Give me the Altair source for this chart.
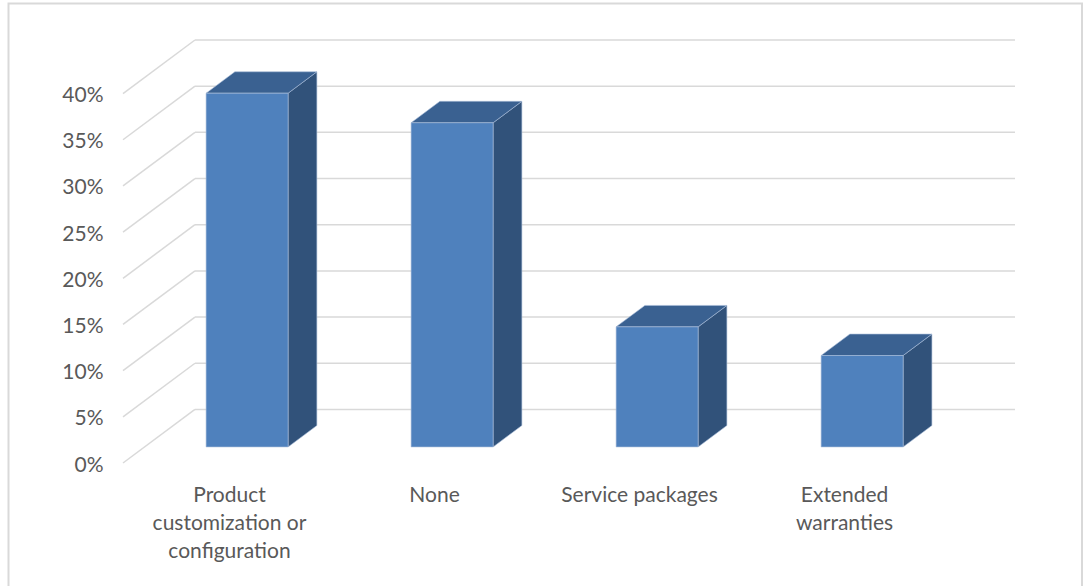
import altair as alt
import pandas as pd

# ---- data ----
categories = ["Product customization or configuration", "None",
              "Service packages", "Extended warranties"]
label_text = ["Product\ncustomization or\nconfiguration", "None",
              "Service packages", "Extended\nwarranties"]
values = [38.3, 35.1, 13.0, 9.9]          # percent
tick_values = [0, 5, 10, 15, 20, 25, 30, 35, 40]

# ---- 3D projection parameters (in data units) ----
DX = 0.351      # full depth, x offset in category units
DY = 5.8        # full depth, y offset in percent units
BAR_W = 0.4     # bar width (gap width 150%)
F0, F1 = 0.3, 0.7   # bar front / back depth fraction
XMIN, XMAX = -0.5, 3.5 + DX
YMIN, YMAX = 0, 40 + DY

xs = alt.Scale(domain=[XMIN, XMAX], nice=False, zero=False)
ys = alt.Scale(domain=[YMIN, YMAX], nice=False, zero=False)

FONT = "Lato"
TXT = "#595959"
GRID = "#D9D9D9"
FRONT, TOP, SIDE = "#4F81BD", "#3A6191", "#31527A"
EDGE = "#A7BCD8"

yaxis = alt.Axis(values=tick_values, labelExpr="datum.value + '%'", domain=False,
                 ticks=False, grid=False, labelPadding=20, labelFont=FONT,
                 labelFontSize=21, labelColor=TXT, title=None, labelOffset=2)

# gridlines on the back wall and the diagonal lines on the left wall
back = pd.DataFrame({"x": [XMIN + DX] * len(tick_values),
                     "x2": [3.5 + DX] * len(tick_values),
                     "y": [v + DY for v in tick_values]})
diag = pd.DataFrame({"x": [XMIN] * len(tick_values),
                     "x2": [XMIN + DX] * len(tick_values),
                     "y": tick_values,
                     "y2": [v + DY for v in tick_values]})

fronts, tops, sides = [], [], []
for i, (c, v) in enumerate(zip(categories, values)):
    xl = i - BAR_W / 2 + F0 * DX
    xr = i + BAR_W / 2 + F0 * DX
    fronts.append({"cat": c, "x": xl, "x2": xr, "y": F0 * DY, "y2": v + F0 * DY})
    tops.append({"cat": c, "y": v + F0 * DY, "x": xl, "x2": xr})
    tops.append({"cat": c, "y": v + F1 * DY, "x": xl + (F1 - F0) * DX, "x2": xr + (F1 - F0) * DX})
    sides.append({"cat": c, "x": xr, "y": F0 * DY, "y2": v + F0 * DY})
    sides.append({"cat": c, "x": xr + (F1 - F0) * DX, "y": F1 * DY, "y2": v + F1 * DY})
fronts, tops, sides = pd.DataFrame(fronts), pd.DataFrame(tops), pd.DataFrame(sides)

labels = pd.DataFrame({"i": list(range(len(categories))), "label": label_text, "y": [0] * 4})

border = alt.Chart(pd.DataFrame({"a": [0]})).mark_rect(
    fillOpacity=0, stroke=GRID, strokeWidth=2).encode(
    x=alt.value(-114.5), x2=alt.value(959), y=alt.value(-36.5), y2=alt.value(600))

back_rules = alt.Chart(back).mark_rule(color=GRID, strokeWidth=1.5).encode(
    x=alt.X("x:Q", scale=xs, axis=None), x2="x2:Q",
    y=alt.Y("y:Q", scale=ys, axis=yaxis))
diag_rules = alt.Chart(diag).mark_rule(color=GRID, strokeWidth=1.5).encode(
    x=alt.X("x:Q", scale=xs, axis=None), x2="x2:Q",
    y=alt.Y("y:Q", scale=ys, axis=yaxis), y2="y2:Q")

side_faces = alt.Chart(sides).mark_area(color=SIDE, stroke=EDGE, strokeWidth=0.6,
                                        orient="vertical").encode(
    x=alt.X("x:Q", scale=xs, axis=None),
    y=alt.Y("y:Q", scale=ys, axis=yaxis), y2="y2:Q", detail="cat:N")
top_faces = alt.Chart(tops).mark_area(color=TOP, stroke=EDGE, strokeWidth=0.6,
                                      orient="horizontal").encode(
    y=alt.Y("y:Q", scale=ys, axis=yaxis),
    x=alt.X("x:Q", scale=xs, axis=None), x2="x2:Q", detail="cat:N")
front_faces = alt.Chart(fronts).mark_rect(color=FRONT, stroke=EDGE, strokeWidth=0.6).encode(
    x=alt.X("x:Q", scale=xs, axis=None), x2="x2:Q",
    y=alt.Y("y:Q", scale=ys, axis=yaxis), y2="y2:Q")

label_layer = alt.Chart(labels).mark_text(
    font=FONT, fontSize=21, color=TXT, baseline="top", align="center",
    lineBreak="\n", lineHeight=28, dy=22, dx=4).encode(
    x=alt.X("i:Q", scale=xs, axis=None),
    y=alt.Y("y:Q", scale=ys, axis=yaxis),
    text="label:N")

chart = alt.layer(border, back_rules, diag_rules, side_faces, top_faces,
                  front_faces, label_layer).properties(
    width=892, height=423,
    autosize=alt.AutoSizeParams(type="none"),
    padding={"left": 123, "top": 40, "right": 68, "bottom": 123},
    background="white",
).configure_view(stroke=None)

chart.save("out.html", embed_options={"renderer": "svg", "actions": False})
